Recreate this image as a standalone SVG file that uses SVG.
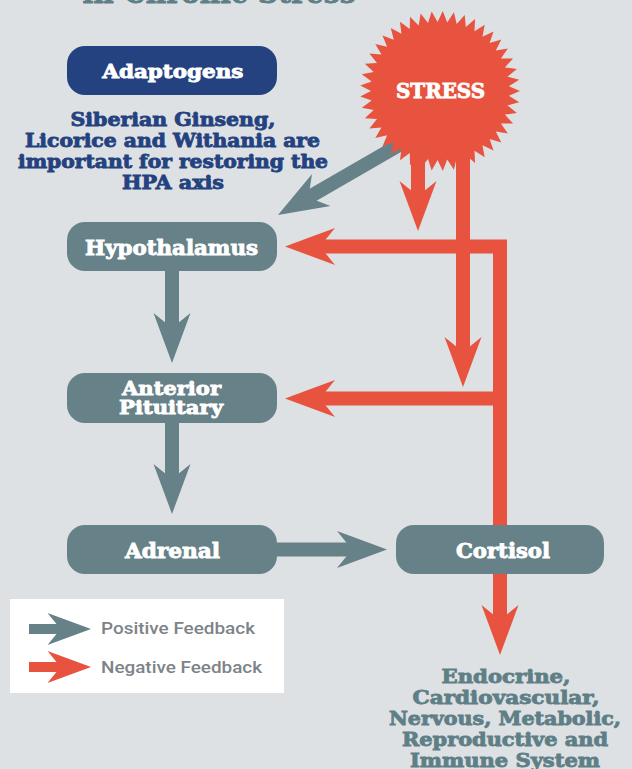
<svg xmlns="http://www.w3.org/2000/svg" width="632" height="769" viewBox="0 0 632 769">
<style>
.bg{fill:#dee1e4}
.gf{fill:#668187}
.rf{fill:#e8533f}
.gs{stroke:#668187;stroke-width:14;fill:none}
.rs{stroke:#e8533f;stroke-width:14;fill:none;stroke-linejoin:miter}
.slab{font-family:"DejaVu Serif Condensed","DejaVu Serif","Liberation Serif",serif;font-stretch:condensed;font-weight:bold;text-anchor:middle;stroke-width:0.8px;paint-order:stroke}
.lbl{fill:#ffffff;stroke:#ffffff;font-size:20px}
.blue{fill:#23427f;stroke:#23427f;font-size:19px}
.teal{fill:#5f7f86;stroke:#5f7f86;font-size:19px}
.leg{font-family:Roboto,"Liberation Sans",sans-serif;font-weight:500;font-size:16px;fill:#7d8388}
</style>
<defs>
<path id="ah" d="M0,0 L-50,-18.5 L-35,0 L-50,18.5 Z"/>
</defs>
<rect class="bg" x="0" y="0" width="632" height="769"/>
<text class="slab teal" x="219" y="3" style="font-size:30px" textLength="273" lengthAdjust="spacingAndGlyphs">in Chronic Stress</text>

<g id="connectors">
<line class="gs" x1="172" y1="271" x2="172" y2="333"/>
<use href="#ah" class="gf" transform="translate(172,363) rotate(90)"/>
<line class="gs" x1="172" y1="423" x2="172" y2="484"/>
<use href="#ah" class="gf" transform="translate(172,514) rotate(90)"/>
<line class="gs" x1="277" y1="549.5" x2="357" y2="549.5"/>
<use href="#ah" class="gf" transform="translate(387,549.5) rotate(0)"/>
<line class="gs" x1="409.6" y1="139" x2="304" y2="200"/>
<use href="#ah" class="gf" transform="translate(278,215) rotate(150)"/>
<line class="rs" x1="418" y1="150" x2="418" y2="201"/>
<use href="#ah" class="rf" transform="translate(418,231) rotate(90)"/>
<line class="rs" x1="463" y1="150" x2="463" y2="357"/>
<use href="#ah" class="rf" transform="translate(463,387) rotate(90)"/>
<path class="rs" d="M315,246.5 H500 V625"/>
<use href="#ah" class="rf" transform="translate(285,246.5) rotate(180)"/>
<path class="rs" d="M500,398.5 H315"/>
<use href="#ah" class="rf" transform="translate(285,398.5) rotate(180)"/>
<use href="#ah" class="rf" transform="translate(500,655) rotate(90)"/>
</g>

<g id="stress">
<polygon class="rf" points="520,91 508.83,95.81 519.22,102.13 507.49,105.35 516.90,113.05 504.84,114.60 513.08,123.54 500.92,123.39 507.84,133.39 495.82,131.56 501.28,142.42 489.63,138.93 493.53,150.45 482.48,145.37 484.74,157.32 474.50,150.76 475.07,162.90 465.85,154.98 464.72,167.08 456.69,157.95 453.89,169.78 447.21,159.62 442.79,170.95 437.59,159.96 431.64,170.56 428.02,158.95 420.65,168.62 418.68,156.62 410.03,165.17 409.75,153.02 400.00,160.28 401.42,148.20 390.75,154.04 393.83,142.28 382.45,146.57 387.14,135.35 375.28,138.02 381.48,127.56 369.36,128.56 376.97,119.07 364.82,118.36 373.67,110.02 361.75,107.63 371.67,100.60 360.20,96.58 371,91 360.20,85.42 371.67,81.40 361.75,74.37 373.67,71.98 364.82,63.64 376.97,62.93 369.36,53.44 381.48,54.44 375.28,43.98 387.14,46.65 382.45,35.43 393.83,39.72 390.75,27.96 401.42,33.80 400.00,21.72 409.75,28.98 410.03,16.83 418.68,25.38 420.65,13.38 428.02,23.05 431.64,11.44 437.59,22.04 442.79,11.05 447.21,22.38 453.89,12.22 456.69,24.05 464.72,14.92 465.85,27.02 475.07,19.10 474.50,31.24 484.74,24.68 482.48,36.63 493.53,31.55 489.63,43.07 501.28,39.58 495.82,50.44 507.84,48.61 500.92,58.61 513.08,58.46 504.84,67.40 516.90,68.95 507.49,76.65 519.22,79.87 508.83,86.19"/>
<text class="slab lbl" x="440.5" y="98" style="font-size:21px" textLength="89" lengthAdjust="spacingAndGlyphs">STRESS</text>
</g>

<g id="adaptogens">
<rect x="67" y="46" width="210" height="49" rx="18" fill="#23427f"/>
<text class="slab lbl" x="172.8" y="78" style="font-size:19px" textLength="141" lengthAdjust="spacingAndGlyphs">Adaptogens</text>
</g>

<g id="adaptogens-note">
<text class="slab blue" x="173" y="126" textLength="205" lengthAdjust="spacingAndGlyphs">Siberian Ginseng,</text>
<text class="slab blue" x="172.5" y="147" textLength="295" lengthAdjust="spacingAndGlyphs">Licorice and Withania are</text>
<text class="slab blue" x="173" y="168" textLength="310" lengthAdjust="spacingAndGlyphs">important for restoring the</text>
<text class="slab blue" x="173" y="189" textLength="102" lengthAdjust="spacingAndGlyphs">HPA axis</text>
</g>

<g id="hypothalamus">
<rect class="gf" x="67" y="222" width="210" height="49" rx="18"/>
<text class="slab lbl" x="171.5" y="255" textLength="173" lengthAdjust="spacingAndGlyphs">Hypothalamus</text>
</g>

<g id="anterior-pituitary">
<rect class="gf" x="67" y="373" width="210" height="50" rx="18"/>
<text class="slab lbl" x="171.5" y="394.5" style="font-size:19px" textLength="99" lengthAdjust="spacingAndGlyphs">Anterior</text>
<text class="slab lbl" x="171" y="414" style="font-size:19px" textLength="104" lengthAdjust="spacingAndGlyphs">Pituitary</text>
</g>

<g id="adrenal">
<rect class="gf" x="67" y="525" width="210" height="49" rx="18"/>
<text class="slab lbl" x="172.5" y="558" textLength="95" lengthAdjust="spacingAndGlyphs">Adrenal</text>
</g>

<g id="cortisol">
<rect class="gf" x="396" y="525" width="208" height="49" rx="18"/>
<text class="slab lbl" x="503" y="558" textLength="94" lengthAdjust="spacingAndGlyphs">Cortisol</text>
</g>

<g id="effects">
<text class="slab teal" x="506" y="683" textLength="129" lengthAdjust="spacingAndGlyphs">Endocrine,</text>
<text class="slab teal" x="506" y="704" textLength="187" lengthAdjust="spacingAndGlyphs">Cardiovascular,</text>
<text class="slab teal" x="505" y="725" textLength="232" lengthAdjust="spacingAndGlyphs">Nervous, Metabolic,</text>
<text class="slab teal" x="505" y="746" textLength="206" lengthAdjust="spacingAndGlyphs">Reproductive and</text>
<text class="slab teal" x="505" y="767" textLength="190" lengthAdjust="spacingAndGlyphs">Immune System</text>
</g>

<g id="legend">
<rect x="10" y="599" width="274" height="94" fill="#ffffff"/>
<line x1="29" y1="629" x2="66" y2="629" stroke="#668187" stroke-width="10"/>
<use href="#ah" class="gf" transform="translate(91,629) scale(0.87)"/>
<line x1="29" y1="667" x2="66" y2="667" stroke="#e8533f" stroke-width="10"/>
<use href="#ah" class="rf" transform="translate(91,667) scale(0.87)"/>
<text class="leg" x="101" y="634" textLength="154" lengthAdjust="spacingAndGlyphs">Positive Feedback</text>
<text class="leg" x="101" y="673" textLength="161" lengthAdjust="spacingAndGlyphs">Negative Feedback</text>
</g>
</svg>
